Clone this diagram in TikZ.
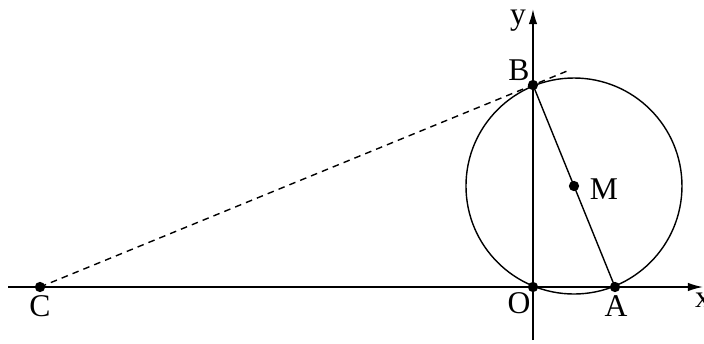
\documentclass[tikz,border=0pt]{standalone}
\usepackage{fontspec}
\setmainfont{Liberation Serif}
\usetikzlibrary{arrows.meta, calc}

\tikzset{
  dot/.style={circle, fill, inner sep=0pt, minimum size=4.4pt},
  axis/.style={->, line width=0.65pt},
  seg/.style={line width=0.6pt},
}

\begin{document}
\begin{tikzpicture}[>={Latex[length=6.4pt,width=3.6pt]}, scale=0.015, font=\fontsize{13.5}{15}\selectfont]
    \useasboundingbox (-533,-56) rectangle (171,287);
    % axes
    \coordinate (xs) at (-525,0);
    \coordinate (xe) at (170,0);
    \coordinate (ys) at (0,-53);
    \coordinate (ye) at (0,278);
    \draw[axis] (xs) -- (xe);
    \draw[axis] (ys) -- (ye);
    % points
    \coordinate (O) at (0,0);
    \coordinate (A) at (82,0);
    \coordinate (B) at (0,202);
    \coordinate (C) at (-493,0);
    \coordinate (M) at ($(A)!0.5!(B)$);
    \coordinate (T) at ($(C)!1.077!(B)$);
    % circle, chord and dashed line
    \draw[seg] (M) circle (108);
    \draw[seg] (A) -- (B);
    \draw[seg, dash pattern=on 2.8pt off 2.2pt] (C) -- (T);
    \foreach \p in {O,A,B,C,M} {
        \node[dot] (d\p) at (\p) {};
    }
    % labels
    \node (lx) at (170,-13) {x};
    \node (ly) at (-15,266) {y};
    \node (lB) at (-14,217) {B};
    \node (lO) at (-14,-16) {O};
    \node (lA) at (83,-19) {A};
    \node (lC) at (-493,-19) {C};
    \node (lM) at (71,98) {M};
\end{tikzpicture}
\end{document}
